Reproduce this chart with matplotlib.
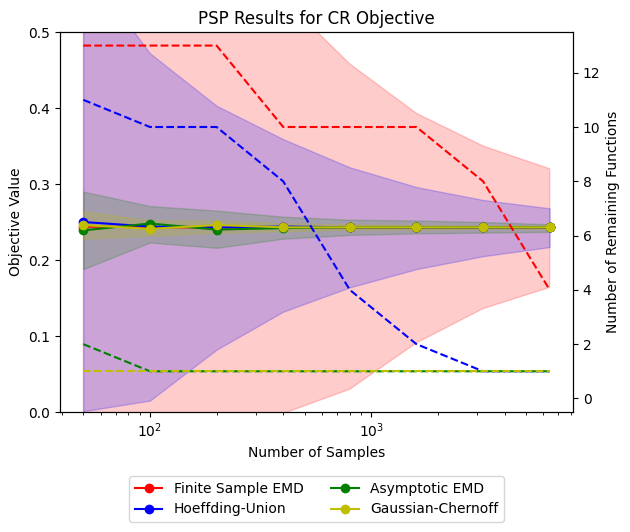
import numpy as np
import matplotlib
matplotlib.use('Agg')
import matplotlib.pyplot as plt

samples = [50, 100, 200, 400, 800, 1600, 3200, 6400]

# objective value: mean and band per method
fse_mean = [0.244, 0.243, 0.243, 0.243, 0.243, 0.243, 0.243, 0.243]
fse_lo = [-0.12, -0.08, -0.04, -0.002, 0.030, 0.091, 0.136, 0.164]
fse_hi = [0.80, 0.72, 0.64, 0.544, 0.458, 0.393, 0.350, 0.320]

hu_mean = [0.250, 0.244, 0.243, 0.244, 0.243, 0.243, 0.243, 0.243]
hu_lo = [0.001, 0.015, 0.082, 0.132, 0.164, 0.188, 0.205, 0.217]
hu_hi = [0.589, 0.472, 0.403, 0.359, 0.322, 0.296, 0.279, 0.268]

ae_mean = [0.239, 0.248, 0.240, 0.242, 0.243, 0.243, 0.243, 0.243]
ae_lo = [0.188, 0.223, 0.216, 0.228, 0.233, 0.235, 0.236, 0.237]
ae_hi = [0.290, 0.271, 0.265, 0.257, 0.253, 0.252, 0.250, 0.247]

gc_mean = [0.246, 0.241, 0.246, 0.243, 0.243, 0.243, 0.243, 0.243]
gc_lo = [0.228, 0.232, 0.236, 0.238, 0.240, 0.240, 0.241, 0.241]
gc_hi = [0.264, 0.252, 0.252, 0.248, 0.247, 0.246, 0.245, 0.245]

# number of remaining functions
fse_rem = [13, 13, 13, 10, 10, 10, 8, 4]
hu_rem = [11, 10, 10, 8, 4, 2, 1, 1]
ae_rem = [2, 1, 1, 1, 1, 1, 1, 1]
gc_rem = [1, 1, 1, 1, 1, 1, 1, 1]

names = ['Finite Sample EMD', 'Hoeffding-Union', 'Asymptotic EMD', 'Gaussian-Chernoff']
colors = ['r', 'b', 'g', 'y']
means = [fse_mean, hu_mean, ae_mean, gc_mean]
los = [fse_lo, hu_lo, ae_lo, gc_lo]
his = [fse_hi, hu_hi, ae_hi, gc_hi]
rems = [fse_rem, hu_rem, ae_rem, gc_rem]

fig = plt.figure(figsize=(6.3, 5.32), dpi=100)
ax = fig.add_axes([60/630, 1-412/532, 513/630, 380/532])

for lo, hi, c in zip(los, his, colors):
    ax.fill_between(samples, lo, hi, color=c, alpha=0.2)
handles = []
for m, c, n in zip(means, colors, names):
    h, = ax.plot(samples, m, color=c, marker='o', label=n)
    handles.append(h)

ax.set_xscale('log')
ax.set_ylim(0, 0.5)
ax.set_xlabel('Number of Samples')
ax.set_ylabel('Objective Value')
ax.set_title('PSP Results for CR Objective')

ax2 = ax.twinx()
for r, c in zip(rems, colors):
    ax2.plot(samples, r, color=c, linestyle='--')
ax2.set_ylim(-0.5, 13.5)
ax2.set_ylabel('Number of Remaining Functions')

ax.legend(handles=handles, loc='upper center', bbox_to_anchor=(0.5, -0.15), ncol=2)

fig.savefig('out.png', dpi=100)
